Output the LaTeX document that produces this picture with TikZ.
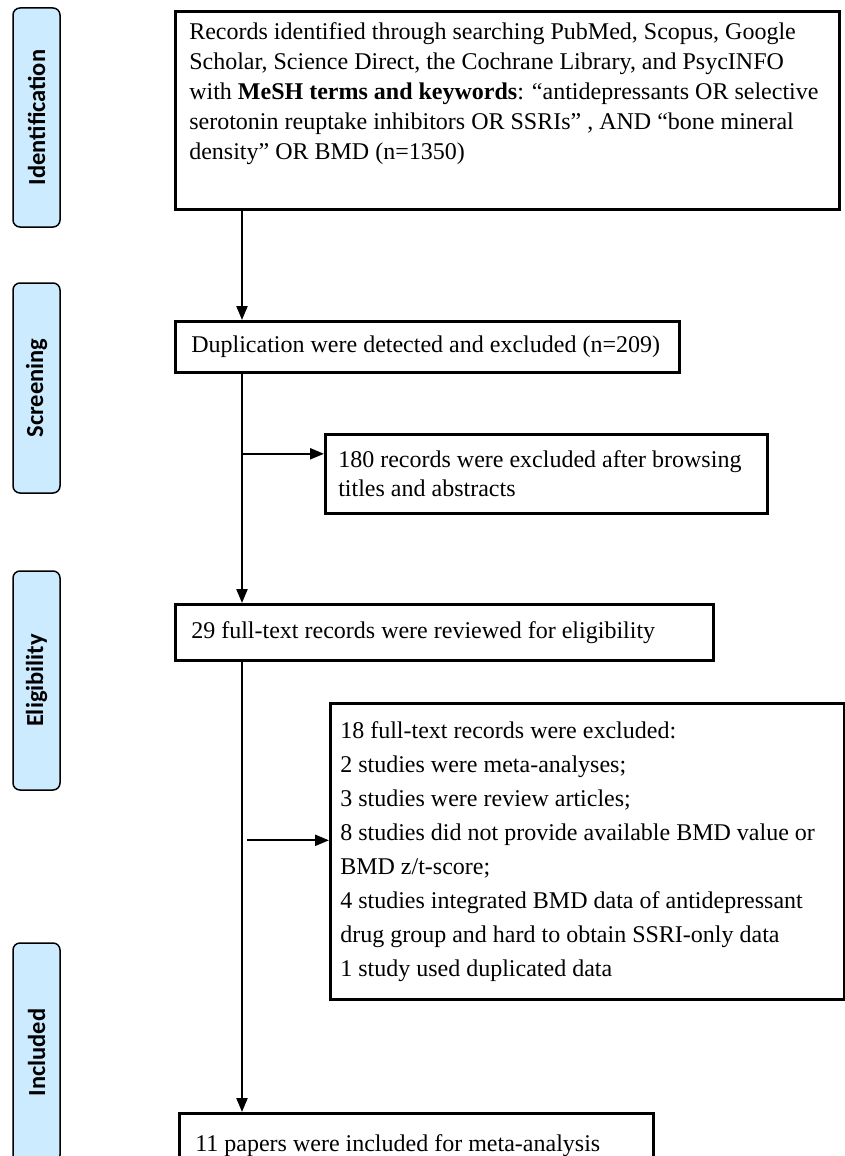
\documentclass[tikz,border=0pt]{standalone}
\usepackage{fontspec}
\setmainfont{Liberation Serif}
\newfontfamily\stagefont{Carlito}
\usetikzlibrary{arrows.meta}
\definecolor{stageblue}{HTML}{CCEBFF}
\begin{document}
\begin{tikzpicture}[x=1pt,y=-1pt,font=\fontsize{24}{30}\selectfont,
	box/.style={draw,line width=2.6pt,anchor=north west,align=flush left,inner xsep=16pt,inner ysep=0pt},
	stage/.style={draw,line width=1.5pt,rounded corners=7pt,fill=stageblue,rotate=90,
		minimum height=47pt,font=\fontsize{24.5}{28}\stagefont\bfseries},
	link/.style={line width=2.3pt,-{Triangle[length=14pt,width=11pt]}}]
\useasboundingbox (0,0) rectangle (844,1156);
% stages on the left
\node[stage,minimum width=219pt] (sident) at (36.5,117.5) {Identification};
\node[stage,minimum width=210pt] (sscreen) at (36.5,388) {Screening};
\node[stage,minimum width=219pt] (selig) at (36.5,680.5) {Eligibility};
\node[stage,minimum width=219pt] (sincl) at (36.5,1052.5) {Included};
% boxes
\node[box,inner xsep=14pt] (ident) at (174,10) {\parbox[t][198pt][t]{636pt}{\vspace{11pt}Records identified through searching PubMed, Scopus, Google\\
	Scholar, Science Direct, the Cochrane Library, and PsycINFO\\
	with \textbf{MeSH terms and keywords}: “antidepressants OR selective\\
	serotonin reuptake inhibitors OR SSRIs” , AND “bone mineral\\
	density” OR BMD (n=1350)}};
\node[box,minimum height=51pt,text width=472pt] (dup) at (174,320) {Duplication were detected and excluded (n=209)};
\node[box,minimum height=79pt,text width=416pt,inner xsep=13pt,font=\fontsize{24}{29}\selectfont] (browse) at (324,433)
	{180 records were excluded after browsing\\ titles and abstracts};
\node[box,minimum height=56pt,text width=506pt] (elig) at (174,603) {29 full-text records were reviewed for eligibility};
\node[box,minimum height=296pt,text width=494pt,inner xsep=10pt,font=\fontsize{24}{34}\selectfont] (excl) at (329,702)
	{18 full-text records were excluded:\\
	2 studies were meta-analyses;\\
	3 studies were review articles;\\
	8 studies did not provide available BMD value or\\
	BMD z/t-score;\\
	4 studies integrated BMD data of antidepressant\\
	drug group and hard to obtain SSRI-only data\\
	1 study used duplicated data};
\node[box,minimum height=64pt,text width=442pt] (final) at (178,1112) {11 papers were included for meta-analysis};
% connectors
\coordinate (spine) at (242,0);
\draw[link] (ident.south -| spine) -- (dup.north -| spine);
\draw[link] (dup.south -| spine) -- (elig.north -| spine);
\draw[link] (elig.south -| spine) -- (final.north -| spine);
\draw[link] ([yshift=20pt]browse.west -| spine) -- ([yshift=20pt]browse.west);
\draw[link] ([yshift=11pt,xshift=5pt]excl.west -| spine) -- ([yshift=11pt]excl.west);
\end{tikzpicture}
\end{document}
